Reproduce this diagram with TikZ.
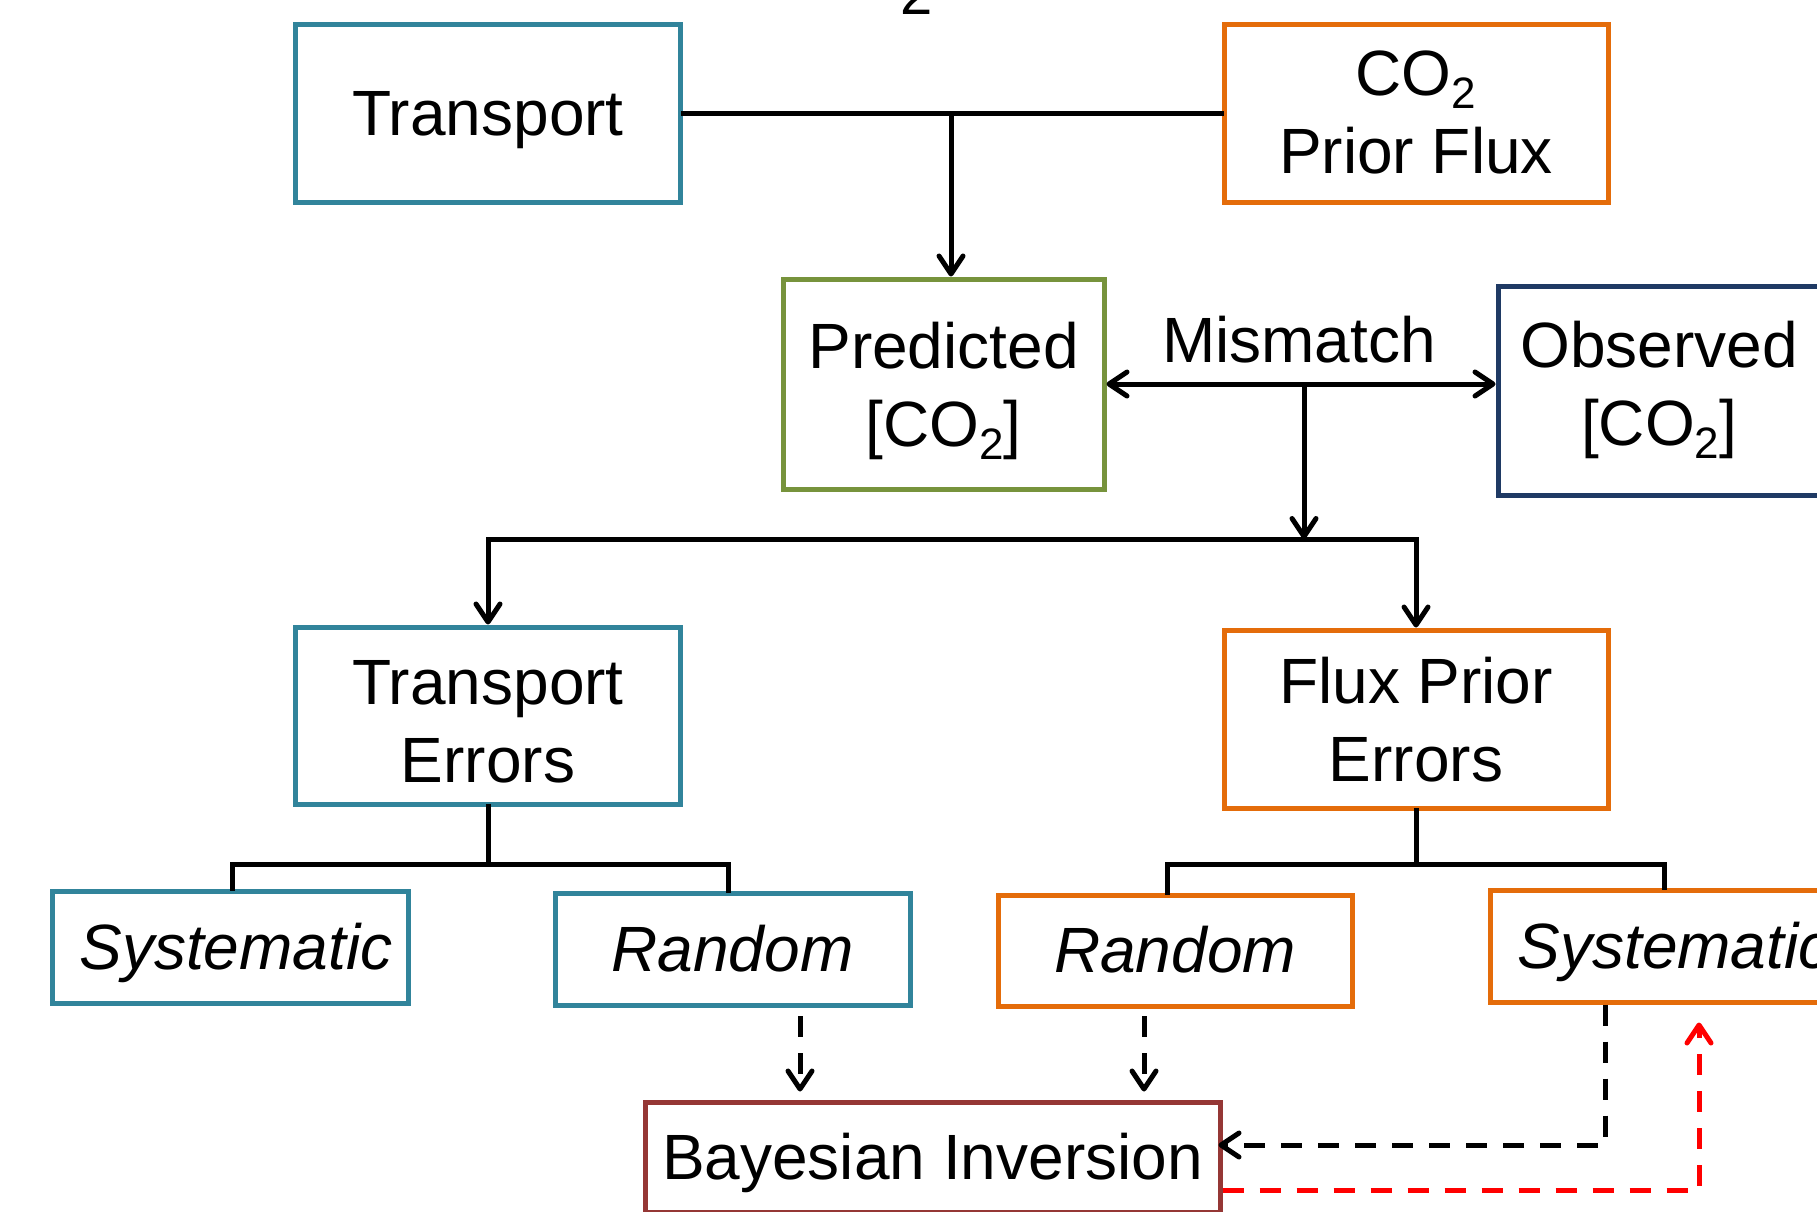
\documentclass[tikz,border=0pt]{standalone}
\usepackage{fontspec}
\setmainfont{Liberation Sans}
\usetikzlibrary{arrows.meta}
\definecolor{tealc}{HTML}{31849B}
\definecolor{orangec}{HTML}{E46C0A}
\definecolor{greenc}{HTML}{77933C}
\definecolor{navyc}{HTML}{1F3A64}
\definecolor{brickc}{HTML}{953735}
\definecolor{redc}{HTML}{FF0000}
\newcommand{\subtwo}{\raisebox{-13pt}{\fontsize{44}{44}\selectfont 2}}
\newcommand{\fstrut}{\rule[-0.212em]{0pt}{1.117em}}
\newcommand{\lowr}[1]{\rule{0pt}{#1}}
\begin{document}
\begin{tikzpicture}[x=1pt,y=-1pt,
  box/.style={draw, line width=5pt, fill=white, align=center, inner sep=0pt,
    font=\fontsize{64}{78}\selectfont,
    execute at begin node=\fstrut, execute at end node=\fstrut},
  indent/.style={execute at begin node={\hspace*{#1}}},
  itbox/.style={box, font=\fontsize{64}{78}\selectfont\itshape},
  conn/.style={line width=5pt, line cap=rect},
  tipstyle/.style={-{Straight Barb[length=18pt,width=24pt,line cap=round,line join=round]}},
  arr/.style={line width=5pt, tipstyle},
  darr/.style={line width=5pt, {Straight Barb[length=18pt,width=24pt,line cap=round,line join=round]}-{Straight Barb[length=18pt,width=24pt,line cap=round,line join=round]}},
  dasharr/.style={line width=5pt, dash pattern=on 21pt off 16pt, tipstyle},
]
\useasboundingbox (0,0) rectangle (1817,1211);
\fill[white] (0,0) rectangle (1817,1211);

% cut-off title fragment
\node[font=\fontsize{58}{58}\selectfont, anchor=base, inner sep=0pt] (t2) at (917,14) {2};

% top row
\node[box, draw=tealc, minimum width=385pt, minimum height=178pt] (transport) at (488,113) {Transport};
\node[box, draw=orangec, minimum width=384pt, minimum height=178pt] (prior) at (1416,113) {\lowr{56pt}CO\subtwo\\Prior Flux};

% middle row
\node[box, draw=greenc, minimum width=321pt, minimum height=210pt] (pred) at (943.5,384) {\lowr{61pt}Predicted\\{[}CO\subtwo{]}};
\node[box, draw=navyc, minimum width=322pt, minimum height=209pt] (obs) at (1659,390.5) {Observed\\{[}CO\subtwo{]}};
\node[inner sep=0pt, font=\fontsize{64}{78}\selectfont] (mis) at (1299,340) {Mismatch};

% error boxes
\node[box, draw=tealc, minimum width=385pt, minimum height=177pt] (terr) at (488,715.5) {\lowr{69pt}Transport\\Errors};
\node[box, draw=orangec, minimum width=384pt, minimum height=178pt] (ferr) at (1416,719) {\lowr{61pt}Flux Prior\\Errors};

% leaves
\node[itbox, indent=12pt, draw=tealc, minimum width=356pt, minimum height=112pt] (tsys) at (230,947) {Systematic};
\node[itbox, draw=tealc, minimum width=355pt, minimum height=112pt] (trand) at (732.5,949) {Random};
\node[itbox, draw=orangec, minimum width=354pt, minimum height=111pt] (orand) at (1175,950.5) {Random};
\node[itbox, indent=12pt, draw=orangec, minimum width=356pt, minimum height=112pt] (osys) at (1668,946) {Systematic};

% bayesian
\node[box, draw=brickc, minimum width=575pt, minimum height=110pt] (bayes) at (932.5,1157) {Bayesian Inversion};

% connectors top
\coordinate (j1) at (951,113);
\draw[conn] (transport.east) -- (prior.west);
\draw[arr] (j1) -- (j1 |- pred.north);

% mismatch
\draw[darr] (pred.east) -- (pred.east -| obs.west);
\coordinate (m1) at (1304,384);
\coordinate (b1) at (1304,539);
\draw[arr] (m1) -- (b1);
\draw[conn] (terr.north |- b1) -- (ferr.north |- b1);
\draw[arr] (terr.north |- b1) -- (terr.north);
\draw[arr] (ferr.north |- b1) -- (ferr.north);

% transport errors tree
\coordinate (tl) at (232,864);
\coordinate (tr) at (728,864);
\draw[conn] (terr.south) -- (terr.south |- tl);
\draw[conn] (tl |- tsys.north) -- (tl) -- (tr) -- (tr |- trand.north);

% flux errors tree
\coordinate (fl) at (1167,864);
\coordinate (fr) at (1664,864);
\draw[conn] (ferr.south) -- (ferr.south |- fl);
\draw[conn] (fl |- orand.north) -- (fl) -- (fr) -- (fr |- osys.north);

% dashed arrows to Bayesian
\coordinate (d1) at (800,1016);
\coordinate (d2) at (1144,1016);
\draw[dasharr, shorten >=8pt] (d1) -- (d1 |- bayes.north);
\draw[dasharr, shorten >=8pt] (d2) -- (d2 |- bayes.north);

\coordinate (d3) at (1605,1145);
\draw[dasharr, shorten >=-4pt] (d3 |- osys.south) -- (d3) -- (bayes.east |- d3);

\coordinate (r1) at (1699,1190);
\draw[dasharr, draw=redc, shorten >=18pt] (bayes.east |- r1) -- (r1) -- (r1 |- osys.south);
\end{tikzpicture}
\end{document}
